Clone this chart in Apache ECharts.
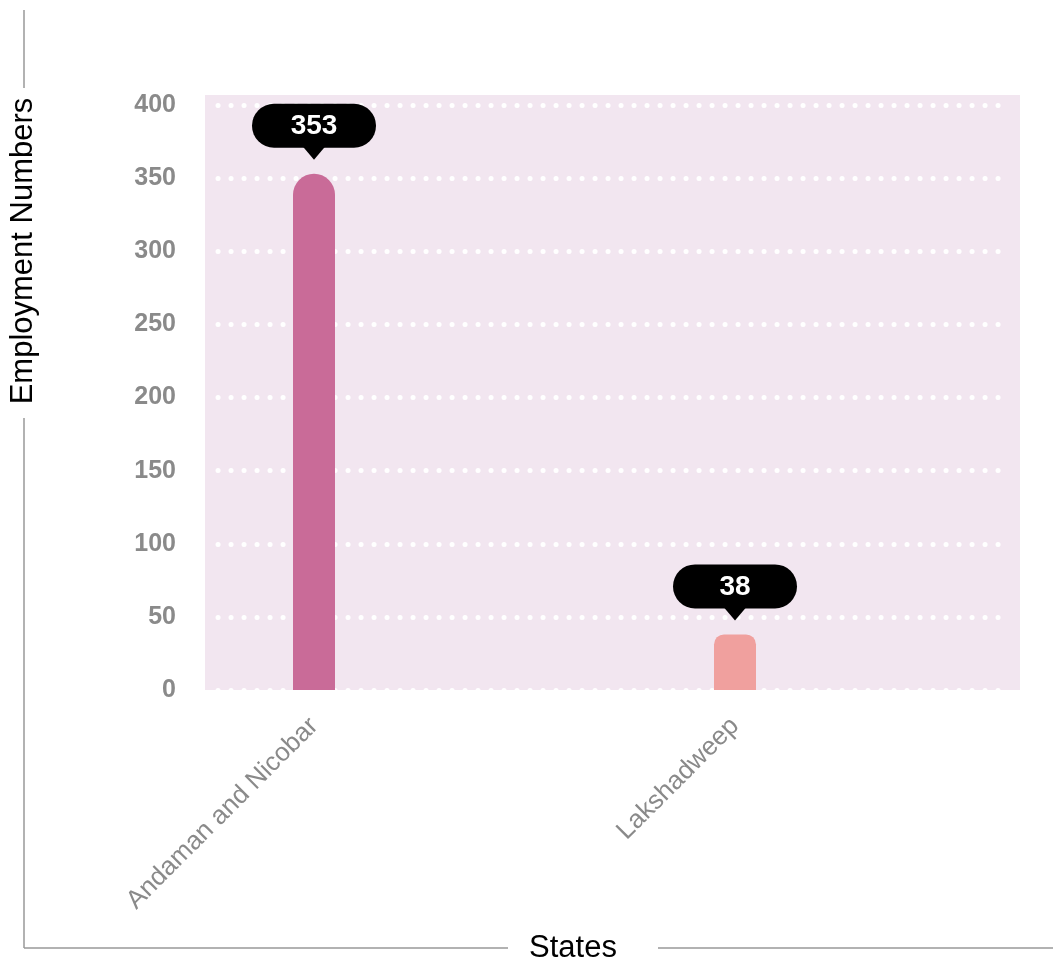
<!DOCTYPE html>
<html>
<head>
<meta charset="utf-8">
<script src="https://cdn.jsdelivr.net/npm/echarts@6/dist/echarts.min.js"></script>
<style>
  html, body { margin: 0; padding: 0; background: #fff; }
  #chart { width: 1053px; height: 965px; }
</style>
</head>
<body>
<div id="chart"></div>
<script>
// data
const states = ['Andaman and Nicobar', 'Lakshadweep']
const employment = [353, 38]
const barColors = ['#c96b98', '#f0a09e']
const barRadius = [21, 10]
const yMin = 0
const yMax = 400
const yStep = 50

const font = 'Liberation Sans, Arial, sans-serif'
const frameColor = '#999'
const chart = echarts.init(document.getElementById('chart'))

// bubble label drawn above each bar
function renderBubble(params, api) {
  const p = api.coord([api.value(0), api.value(1)])
  const tipY = p[1] - 14
  const w = 124, h = 44, tri = 12
  return {
    type: 'group',
    children: [
      {
        type: 'rect',
        shape: { x: p[0] - w / 2, y: tipY - tri - h, width: w, height: h, r: h / 2 },
        style: { fill: '#000' }
      },
      {
        type: 'polygon',
        shape: { points: [[p[0] - 11, tipY - tri - 1], [p[0] + 11, tipY - tri - 1], [p[0], tipY]] },
        style: { fill: '#000' }
      },
      {
        type: 'text',
        style: {
          text: String(api.value(1)),
          x: p[0], y: tipY - tri - h / 2 + 1,
          align: 'center', verticalAlign: 'middle',
          fill: '#fff', font: 'bold 28px ' + font
        }
      }
    ]
  }
}

// outer frame lines broken by the axis titles
const frameLine = (x1, y1, x2, y2) => ({
  type: 'line',
  shape: { x1, y1, x2, y2 },
  style: { stroke: frameColor, lineWidth: 1.5 }
})

const option = {
  animation: false,
  grid: [
    // gridlines + y labels
    { left: 218, right: 43, top: 105, bottom: 275 },
    // bars
    { left: 103.5, right: 107.5, top: 105, bottom: 275 },
    // plot background
    { left: 205, right: 33, top: 95, bottom: 275, show: true, backgroundColor: '#f2e6f0', borderWidth: 0, z: 0 }
  ],
  xAxis: [
    { gridIndex: 0, type: 'value', show: false },
    {
      gridIndex: 1, type: 'category', data: states,
      axisLine: { show: false }, axisTick: { show: false },
      axisLabel: { rotate: 45, margin: 32, color: '#8a8a8a', fontSize: 26, fontFamily: font }
    },
    { gridIndex: 2, type: 'value', show: false }
  ],
  yAxis: [
    {
      gridIndex: 0, type: 'value', min: yMin, max: yMax, interval: yStep,
      axisLine: { show: false }, axisTick: { show: false },
      axisLabel: { margin: 42, color: '#8a8a8a', fontSize: 25, fontWeight: 'bold', fontFamily: font },
      splitLine: { show: true, lineStyle: { color: '#fff', width: 5, type: [0.1, 12.9], cap: 'round' } }
    },
    { gridIndex: 1, type: 'value', min: yMin, max: yMax, show: false },
    { gridIndex: 2, type: 'value', show: false }
  ],
  graphic: [
    frameLine(24, 10, 24, 88),
    frameLine(24, 418, 24, 948),
    frameLine(24, 948, 508, 948),
    frameLine(658, 948, 1053, 948),
    {
      type: 'text', x: 23, y: 251, rotation: Math.PI / 2,
      style: { text: 'Employment Numbers', align: 'center', verticalAlign: 'middle', fill: '#000', font: '31px ' + font }
    },
    {
      type: 'text', x: 573, y: 948,
      style: { text: 'States', align: 'center', verticalAlign: 'middle', fill: '#000', font: '31px ' + font }
    }
  ],
  series: [
    {
      type: 'bar', xAxisIndex: 1, yAxisIndex: 1, barWidth: 42,
      data: employment.map((v, i) => ({
        value: v,
        itemStyle: { color: barColors[i], borderRadius: [barRadius[i], barRadius[i], 0, 0] }
      }))
    },
    {
      type: 'custom', xAxisIndex: 1, yAxisIndex: 1, clip: false, z: 5,
      renderItem: renderBubble,
      data: employment.map((v, i) => [i, v])
    }
  ]
}

chart.setOption(option)
window.addEventListener('resize', () => chart.resize())
</script>
</body>
</html>
